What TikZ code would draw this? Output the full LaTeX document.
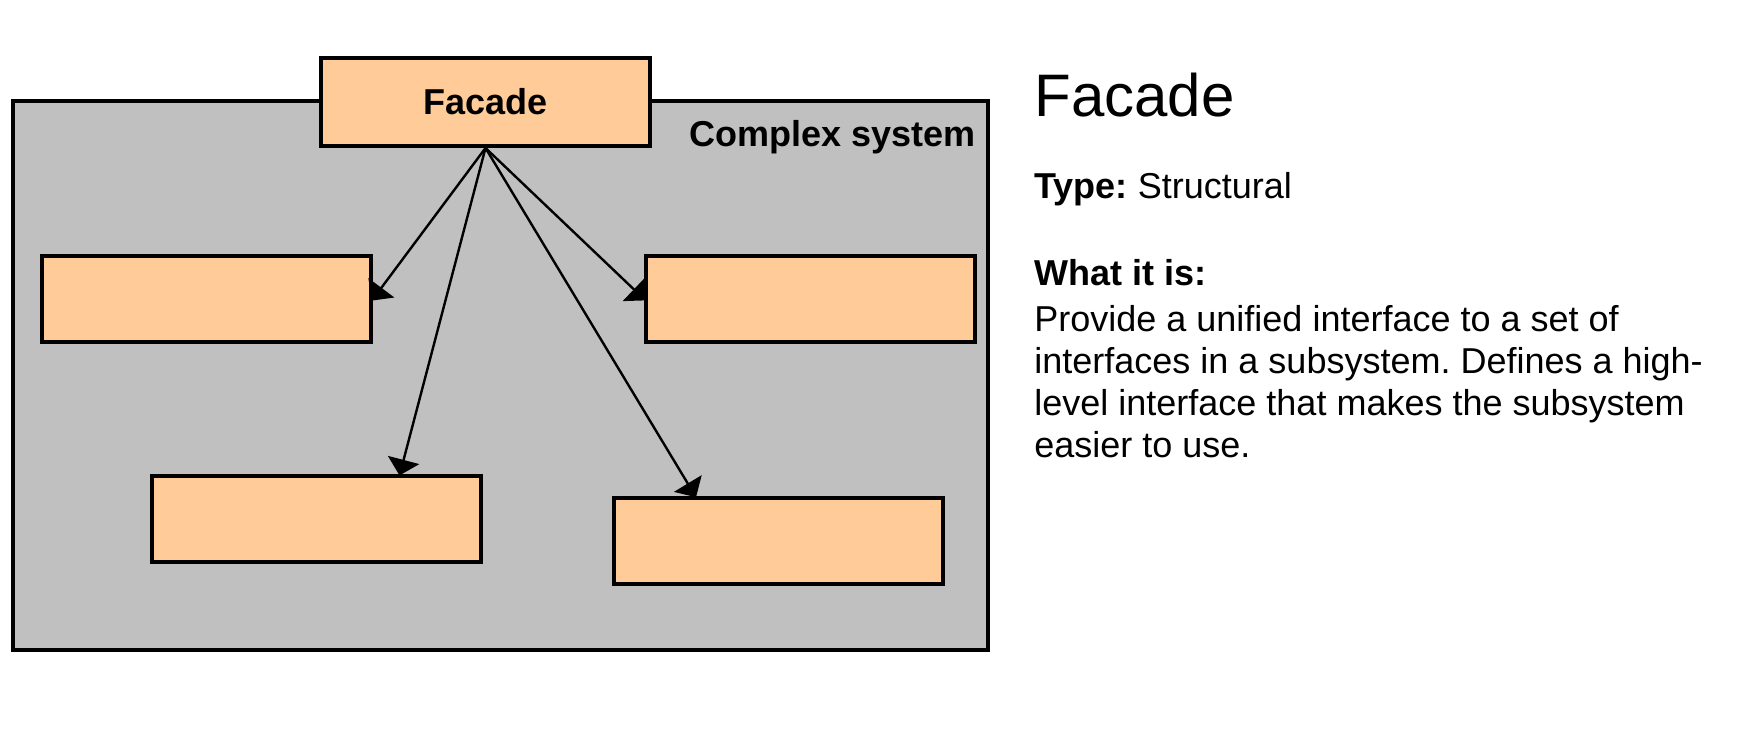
\documentclass[tikz,border=0pt]{standalone}
\usepackage{fontspec}
\setmainfont{Liberation Sans}
\usetikzlibrary{arrows.meta,positioning}
\definecolor{partfill}{HTML}{FFCC99}
\definecolor{sysfill}{HTML}{C0C0C0}
\frenchspacing
\tikzset{
  part/.style={draw, line width=2pt, fill=partfill, minimum width=164.5pt,
    minimum height=43pt, inner sep=0pt, font=\fontsize{18}{21}\selectfont\bfseries},
  link/.style={-{Triangle[length=8pt,width=16pt]}, line width=1.2pt, shorten >=-1pt},
  note/.style={anchor=base west, inner sep=0pt, align=left,
    font=\fontsize{18}{21.1}\selectfont},
}
\begin{document}
\begin{tikzpicture}[x=0.5pt,y=-0.5pt]
		\useasboundingbox (0,0) rectangle (1743,755);
		\node[draw, line width=2pt, fill=sysfill, minimum width=487.5pt,
			minimum height=274.5pt, inner sep=0pt] (system) at (500.5,375.5) {};
		\node[anchor=base east, inner sep=0pt, font=\fontsize{18}{21}\selectfont\bfseries]
			(systemname) at (976,146) {Complex system};
		\node[part, minimum height=44pt] (facade) at (485.5,102) {Facade};
		\node[part] (sub1) at (206.5,299) {};
		\node[part] (sub2) at (810.5,299) {};
		\node[part] (sub3) at (316.5,518.5) {};
		\node[part] (sub4) at (778.5,540.5) {};
		\draw[link] (facade.south) -- (sub1.east);
		\draw[link] (facade.south) -- (sub2.west);
		\draw[link] (facade.south) -- ([xshift=41.75pt]sub3.north);
		\draw[link] (facade.south) -- ([xshift=-41.75pt]sub4.north);
		% description on the right
		\node[note, font=\fontsize{30}{36}\selectfont] (title) at (1034,116) {Facade};
		\node[note] (type) at (1034,198) {\textbf{Type:} Structural};
		\node[note, font=\fontsize{18}{21.1}\selectfont\bfseries] (whatis) at (1034,285) {What it is:};
		\node[note] (body) at (1034,457.6) {Provide a unified interface to a set of\\
			interfaces in a subsystem. Defines a high-\\
			level interface that makes the subsystem\\
			easier to use.};
	\end{tikzpicture}
\end{document}
